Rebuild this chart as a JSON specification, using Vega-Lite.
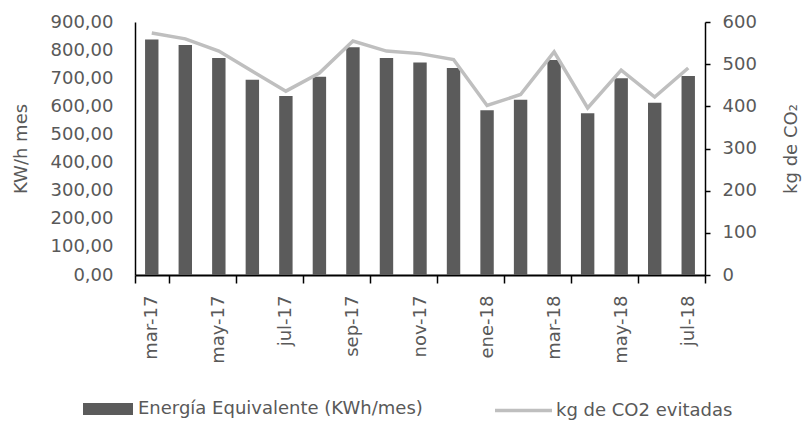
{
  "$schema": "https://vega.github.io/schema/vega-lite/v6.json",
  "autosize": "none",
  "width": 570,
  "height": 253,
  "padding": {"left": 135, "top": 22, "right": 100, "bottom": 146},
  "background": "white",
  "config": {
    "view": {"stroke": null},
    "font": "DejaVu Sans",
    "axis": {"labelFont": "DejaVu Sans", "titleFont": "DejaVu Sans", "labelColor": "#595959", "titleColor": "#595959", "labelFontSize": 18, "titleFontSize": 18, "titleFontWeight": "normal", "grid": false, "domainColor": "#000000", "domainWidth": 1.5, "tickColor": "#000000", "tickWidth": 1.5},
    "legend": {"labelFont": "DejaVu Sans", "labelFontSize": 18, "labelColor": "#595959", "padding": 0, "labelLimit": 0}
  },
  "data": {
    "values": [
      {"mes": "mar-17", "energia": 838, "co2": 574},
      {"mes": "abr-17", "energia": 818, "co2": 560},
      {"mes": "may-17", "energia": 772, "co2": 531},
      {"mes": "jun-17", "energia": 695, "co2": 483},
      {"mes": "jul-17", "energia": 637, "co2": 436},
      {"mes": "ago-17", "energia": 705, "co2": 479},
      {"mes": "sep-17", "energia": 810, "co2": 555},
      {"mes": "oct-17", "energia": 772, "co2": 531},
      {"mes": "nov-17", "energia": 756, "co2": 525},
      {"mes": "dic-17", "energia": 736, "co2": 511},
      {"mes": "ene-18", "energia": 586, "co2": 402},
      {"mes": "feb-18", "energia": 623, "co2": 428},
      {"mes": "mar-18", "energia": 765, "co2": 529},
      {"mes": "abr-18", "energia": 575, "co2": 396},
      {"mes": "may-18", "energia": 700, "co2": 486},
      {"mes": "jun-18", "energia": 613, "co2": 422},
      {"mes": "jul-18", "energia": 708, "co2": 491}
    ]
  },
  "encoding": {
    "x": {
      "field": "mes",
      "type": "ordinal",
      "sort": null,
      "scale": {"paddingInner": 0, "paddingOuter": 0},
      "axis": {
        "title": null,
        "values": ["mar-17", "may-17", "jul-17", "sep-17", "nov-17", "ene-18", "mar-18", "may-18", "jul-18"],
        "tickBand": "extent",
        "labelAngle": -90,
        "tickSize": 8,
        "labelPadding": 12,
        "domainWidth": 2
      }
    }
  },
  "layer": [
    {
      "mark": {"type": "bar", "width": {"band": 0.4}},
      "encoding": {
        "y": {
          "field": "energia",
          "type": "quantitative",
          "scale": {"domain": [0, 900], "nice": false},
          "axis": {
            "title": "KW/h mes",
            "values": [0, 100, 200, 300, 400, 500, 600, 700, 800, 900],
            "labelExpr": "replace(format(datum.value, '.2f'), '.', ',')",
            "ticks": false,
            "labelPadding": 22,
            "titlePadding": 20
          }
        },
        "fill": {
          "datum": "Energía Equivalente (KWh/mes)",
          "scale": {"range": ["#5b5b5b"]},
          "legend": {
            "title": null,
            "orient": "none",
            "legendX": -52,
            "legendY": 362,
            "symbolType": "M-1,-0.24H1V0.24H-1Z",
            "symbolSize": 2500,
            "symbolStrokeWidth": 0,
            "labelOffset": 5
          }
        }
      }
    },
    {
      "mark": {"type": "line", "strokeWidth": 3.5},
      "encoding": {
        "y": {
          "field": "co2",
          "type": "quantitative",
          "scale": {"domain": [0, 600], "nice": false},
          "axis": {
            "orient": "right",
            "title": "kg de CO₂",
            "titleAngle": 270,
            "titleBaseline": "bottom",
            "values": [0, 100, 200, 300, 400, 500, 600],
            "tickSize": 5,
            "labelPadding": 12,
            "titlePadding": 44
          }
        },
        "stroke": {
          "datum": "kg de CO2 evitadas",
          "scale": {"range": ["#bfbfbf"]},
          "legend": {
            "title": null,
            "orient": "none",
            "legendX": 358,
            "legendY": 358,
            "symbolType": "stroke",
            "symbolSize": 3249,
            "symbolStrokeWidth": 3.5,
            "labelOffset": 2
          }
        }
      }
    }
  ],
  "resolve": {"scale": {"y": "independent"}}
}
